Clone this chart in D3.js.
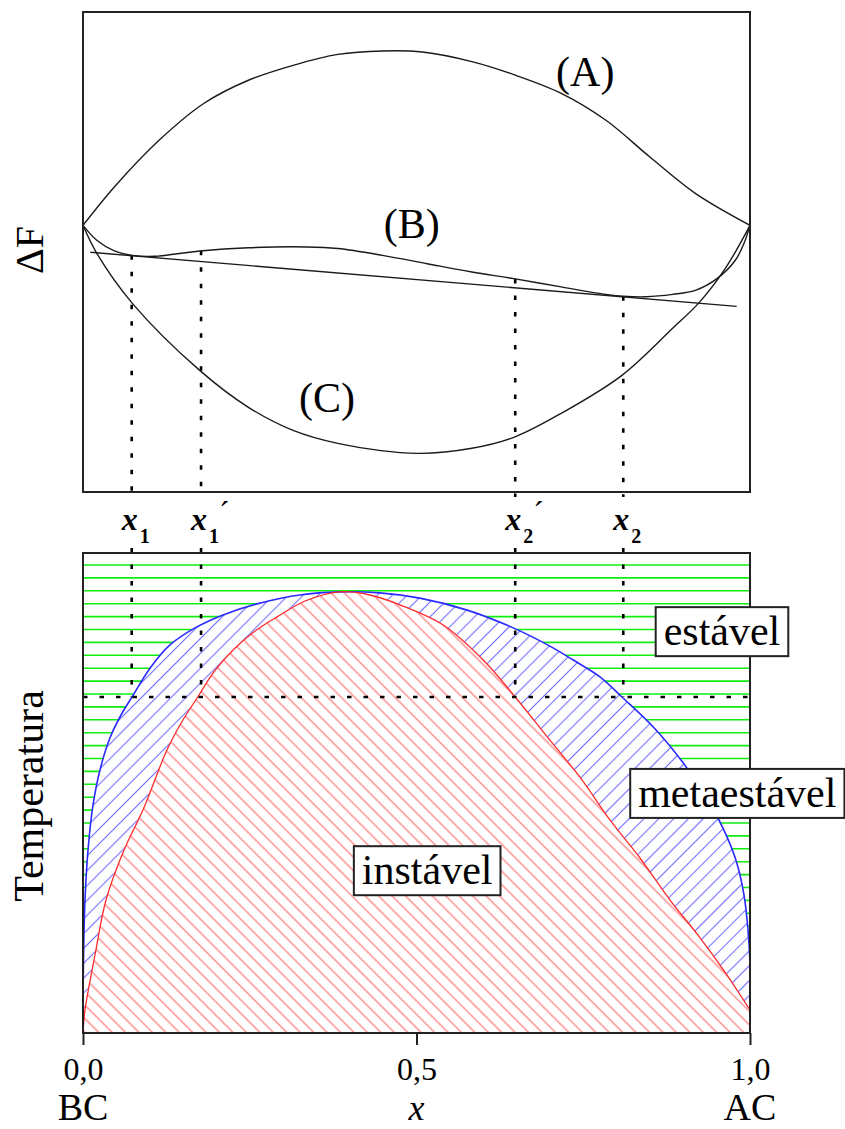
<!DOCTYPE html>
<html>
<head>
<meta charset="utf-8">
<script src="https://cdn.jsdelivr.net/npm/d3@7"></script>
<style>
  body { margin: 0; background: #fff; }
  svg { display: block; }
</style>
</head>
<body>
<svg id="chart" width="845" height="1129"></svg>
<script>
// ---------- Free-energy curves, ΔF(x) (arbitrary units) ----------
const curveA = [[0,0],[0.047,0.144],[0.114,0.319],[0.181,0.457],[0.248,0.544],[0.315,0.600],
  [0.382,0.641],[0.449,0.654],[0.509,0.650],[0.583,0.614],[0.649,0.5625],[0.717,0.495],
  [0.784,0.394],[0.850,0.256],[0.918,0.120],[1,0]];
const curveB = [[0,0],[0.0207,-0.056],[0.047,-0.096],[0.074,-0.1125],[0.108,-0.116],[0.175,-0.096],
  [0.248,-0.084],[0.335,-0.081],[0.382,-0.087],[0.449,-0.1125],[0.516,-0.144],[0.583,-0.175],
  [0.646,-0.200],[0.717,-0.231],[0.784,-0.259],[0.81,-0.266],[0.844,-0.268],[0.884,-0.259],
  [0.918,-0.244],[0.951,-0.199],[0.978,-0.131],[0.991,-0.0675],[1,0]];
const curveC = [[0,0],[0.0207,-0.105],[0.074,-0.2925],[0.175,-0.544],[0.248,-0.6825],[0.315,-0.769],
  [0.382,-0.8175],[0.502,-0.855],[0.583,-0.836],[0.646,-0.795],[0.717,-0.705],[0.808,-0.5625],
  [0.884,-0.386],[0.924,-0.289],[0.964,-0.1575],[1,0]];
// common tangent to curve B
const tangentLine = [[0.011,-0.101],[0.980,-0.304]];
const curveLabels = [
  { text: "(A)", x: 0.753, v: 0.521 },
  { text: "(B)", x: 0.493, v: -0.049 },
  { text: "(C)", x: 0.366, v: -0.701 }
];

// ---------- Compositions marked by the dotted lines ----------
const markX      = [0.073, 0.177, 0.648, 0.81];
const markIndex  = ["1", "1", "2", "2"];
const markPrime  = [false, true, true, false];

// ---------- Phase diagram T(x) ----------
const binodal = [[0,0.048],[0.00075,0.152],[0.003,0.277],[0.0075,0.381],[0.015,0.475],[0.0255,0.548],
  [0.0405,0.615],[0.057,0.6625],[0.0735,0.700],[0.1005,0.760],[0.130,0.808],[0.168,0.844],
  [0.210,0.871],[0.261,0.894],[0.325,0.9125],[0.385,0.919],[0.445,0.917],[0.505,0.906],
  [0.576,0.881],[0.645,0.844],[0.700,0.806],[0.735,0.777],[0.775,0.742],[0.808,0.700],
  [0.855,0.6375],[0.900,0.5625],[0.9325,0.496],[0.9595,0.427],[0.979,0.360],[0.991,0.2875],
  [0.997,0.2145],[1,0.142],[1,0.048]];
const spinodal = [[0,0],[0.003,0.048],[0.018,0.1625],[0.0345,0.277],[0.0615,0.381],[0.090,0.465],
  [0.126,0.590],[0.148,0.648],[0.172,0.700],[0.196,0.752],[0.225,0.798],[0.258,0.8375],
  [0.291,0.867],[0.333,0.900],[0.385,0.919],[0.430,0.9125],[0.475,0.892],[0.540,0.850],
  [0.600,0.777],[0.648,0.700],[0.700,0.610],[0.745,0.533],[0.790,0.444],[0.835,0.3646],
  [0.880,0.277],[0.922,0.204],[0.9625,0.127],[1,0.048]];
const tempLine = 0.7;
const regionLabels = [
  { text: "estável",     x: 0.958, t: 0.808 },
  { text: "metaestável", x: 0.981, t: 0.471 },
  { text: "instável",    x: 0.516, t: 0.310 }
];

// ---------- Axis ----------
const xTicks = [0, 0.5, 1];
const xTickLabels = ["0,0", "0,5", "1,0"];
const xEndLabels = ["BC", "AC"];

// ---------- Layout ----------
const serif = "'Liberation Serif','Times New Roman',Times,serif";
const svg = d3.select("#chart");
const x  = d3.scaleLinear().domain([0, 1]).range([83, 750]);
const yF = d3.scaleLinear().domain([-1, 0.8]).range([492, 12]);
const yT = d3.scaleLinear().domain([0, 1]).range([1033, 553]);
const topBox = { x0: 83, x1: 750, y0: 12, y1: 492 };
const botBox = { x0: 83, x1: 750, y0: 553, y1: 1033 };
const dotStyle = sel => sel.attr("stroke", "#000").attr("stroke-width", 2.6)
  .attr("stroke-dasharray", "4.5,12").attr("fill", "none");

function interp(pts, xv) {
  for (let i = 1; i < pts.length; i++) {
    if (xv <= pts[i][0]) {
      const [x0, y0] = pts[i - 1], [x1, y1] = pts[i];
      return y0 + (y1 - y0) * (xv - x0) / (x1 - x0);
    }
  }
  return pts[pts.length - 1][1];
}

// ================= upper panel: ΔF =================
const upper = svg.append("g");
const lineF = d3.line().x(d => x(d[0])).y(d => yF(d[1])).curve(d3.curveCatmullRom.alpha(0.5));

markX.forEach(m => {
  upper.append("line")
    .attr("x1", x(m)).attr("x2", x(m))
    .attr("y1", yF(interp(curveB, m))).attr("y2", 497)
    .call(dotStyle);
});

[curveA, curveB, curveC].forEach(c => {
  upper.append("path").attr("d", lineF(c))
    .attr("fill", "none").attr("stroke", "#1a1a1a").attr("stroke-width", 1.4);
});
upper.append("path")
  .attr("d", d3.line().x(d => x(d[0])).y(d => yF(d[1]))(tangentLine))
  .attr("fill", "none").attr("stroke", "#1a1a1a").attr("stroke-width", 1.4);

curveLabels.forEach(l => {
  upper.append("text").attr("x", x(l.x)).attr("y", yF(l.v))
    .attr("text-anchor", "middle").attr("font-family", serif).attr("font-size", 42)
    .text(l.text);
});

upper.append("rect")
  .attr("x", topBox.x0).attr("y", topBox.y0)
  .attr("width", topBox.x1 - topBox.x0).attr("height", topBox.y1 - topBox.y0)
  .attr("fill", "none").attr("stroke", "#222").attr("stroke-width", 2);

upper.append("text")
  .attr("transform", "translate(43,250) rotate(-90)")
  .attr("text-anchor", "middle").attr("font-family", serif).attr("font-size", 40)
  .text("ΔF");

// composition labels between panels
markX.forEach((m, i) => {
  const t = svg.append("text").attr("x", x(m) - 10).attr("y", 530)
    .attr("font-family", serif).attr("font-size", 32)
    .attr("font-style", "italic").attr("font-weight", "bold").text("x");
  t.append("tspan").attr("dx", 2).attr("dy", 13)
    .attr("font-size", 20).attr("font-style", "normal").text(markIndex[i]);
  if (markPrime[i]) {
    t.append("tspan").attr("dx", 0).attr("dy", -20)
      .attr("font-size", 32).attr("font-style", "normal").attr("font-weight", "normal").text("´");
  }
});

// ================= lower panel: phase diagram =================
const defs = svg.append("defs");
defs.append("clipPath").attr("id", "botClip").append("rect")
  .attr("x", botBox.x0).attr("y", botBox.y0)
  .attr("width", botBox.x1 - botBox.x0).attr("height", botBox.y1 - botBox.y0);

function hatch(id, color, angle, gap) {
  const p = defs.append("pattern").attr("id", id)
    .attr("patternUnits", "userSpaceOnUse")
    .attr("width", gap).attr("height", gap)
    .attr("patternTransform", `rotate(${angle})`);
  p.append("rect").attr("width", gap).attr("height", gap).attr("fill", "#fff");
  p.append("line").attr("x1", gap / 2).attr("x2", gap / 2).attr("y1", 0).attr("y2", gap)
    .attr("stroke", color).attr("stroke-width", 1.1);
}
hatch("hatchBlue", "#7070ff", 45, 10.5);
hatch("hatchRed", "#ff6a6a", -45, 9.5);

const lower = svg.append("g").attr("clip-path", "url(#botClip)");

// stable region: horizontal green rules
const ruleStep = 12.9 / 480;
d3.range(37).map(k => 0.975 - k * ruleStep).forEach(t => {
  lower.append("line").attr("x1", botBox.x0).attr("x2", botBox.x1)
    .attr("y1", yT(t)).attr("y2", yT(t))
    .attr("stroke", "#10ee10").attr("stroke-width", 1.6);
});

const lineT = d3.line().x(d => x(d[0])).y(d => yT(d[1])).curve(d3.curveCatmullRom.alpha(0.5));
const closeTo = pts => pts.map(p => `L${x(p[0])},${yT(p[1])}`).join("") + "Z";

lower.append("path").attr("d", lineT(binodal) + closeTo([[1, 0], [0, 0]]))
  .attr("fill", "url(#hatchBlue)");
lower.append("path").attr("d", lineT(spinodal) + closeTo([[1, 0]]))
  .attr("fill", "url(#hatchRed)");
lower.append("path").attr("d", lineT(binodal))
  .attr("fill", "none").attr("stroke", "#2b2bff").attr("stroke-width", 1.6);
lower.append("path").attr("d", lineT(spinodal))
  .attr("fill", "none").attr("stroke", "#ff2b2b").attr("stroke-width", 1.3);

// tie line and dotted drop lines
svg.append("line").attr("x1", x(0)).attr("x2", x(1))
  .attr("y1", yT(tempLine)).attr("y2", yT(tempLine)).call(dotStyle);
markX.forEach(m => {
  svg.append("line").attr("x1", x(m)).attr("x2", x(m))
    .attr("y1", 548).attr("y2", yT(tempLine)).call(dotStyle);
});

// box and axis
svg.append("rect")
  .attr("x", botBox.x0).attr("y", botBox.y0)
  .attr("width", botBox.x1 - botBox.x0).attr("height", botBox.y1 - botBox.y0)
  .attr("fill", "none").attr("stroke", "#222").attr("stroke-width", 2);

const axis = svg.append("g").attr("transform", `translate(0,${botBox.y1})`)
  .call(d3.axisBottom(x).tickValues(xTicks)
    .tickFormat((d, i) => xTickLabels[i]).tickSize(12).tickPadding(12.3));
axis.select(".domain").remove();
axis.selectAll(".tick line").attr("stroke", "#222").attr("stroke-width", 2);
axis.selectAll(".tick text").attr("font-family", serif).attr("font-size", 32).attr("fill", "#000");

svg.append("text").attr("x", x(0)).attr("y", 1120).attr("text-anchor", "middle")
  .attr("font-family", serif).attr("font-size", 38).text(xEndLabels[0]);
svg.append("text").attr("x", x(1)).attr("y", 1120).attr("text-anchor", "middle")
  .attr("font-family", serif).attr("font-size", 38).text(xEndLabels[1]);
svg.append("text").attr("x", x(0.5)).attr("y", 1120).attr("text-anchor", "middle")
  .attr("font-family", serif).attr("font-size", 36).attr("font-style", "italic").text("x");

svg.append("text")
  .attr("transform", "translate(43,796) rotate(-90)")
  .attr("text-anchor", "middle").attr("font-family", serif).attr("font-size", 42)
  .text("Temperatura");

// boxed region labels
regionLabels.forEach(l => {
  const g = svg.append("g");
  const t = g.append("text").attr("x", x(l.x)).attr("y", yT(l.t))
    .attr("text-anchor", "middle").attr("font-family", serif).attr("font-size", 42)
    .text(l.text);
  const b = t.node().getBBox();
  g.insert("rect", "text")
    .attr("x", b.x - 8).attr("y", b.y - 1)
    .attr("width", b.width + 16).attr("height", b.height + 3)
    .attr("fill", "#fff").attr("stroke", "#222").attr("stroke-width", 2);
});
</script>
</body>
</html>
